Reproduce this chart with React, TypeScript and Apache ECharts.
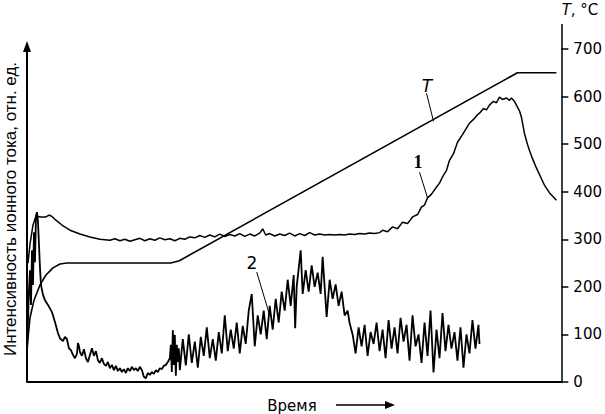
import React, { useEffect, useRef } from "react";
import * as echarts from "echarts";

// Time axis in arbitrary units (0..107), temperature / intensity on a common 0..700 scale
const tempMax = 700;
const tempStep = 100;

const curveT: [number, number][] = [
  [0, 70], [0.6, 135], [1.4, 172], [2.6, 204], [3.8, 225], [5.2, 240], [6.6, 248], [8, 250],
  [28.8, 250], [30.5, 255], [98.2, 650], [106, 650],
];

const curve1: [number, number][] = [
  [0.2, 250], [0.6, 290], [1.2, 330], [1.8, 349], [2.6, 347], [3.8, 347], [4.4, 351], [5.0, 348],
  [5.6, 342], [7, 330], [8.6, 319], [10.6, 311], [12.6, 305], [14.6, 300],
  [16.6, 298], [17.6, 301], [18.6, 297], [19.6, 300], [20.6, 296], [21.6, 299], [22.6, 302],
  [23.6, 297], [24.6, 301], [25.6, 298], [26.6, 303], [27.6, 299], [28.6, 301], [29.6, 297],
  [30.6, 302], [31.6, 300], [32.6, 305], [33.6, 303], [34.6, 308], [35.6, 304], [36.6, 309],
  [37.6, 305], [38.6, 311], [39.6, 306], [40.6, 310], [41.6, 307], [42.6, 312], [43.6, 306],
  [44.6, 311], [45.6, 307], [46.6, 313], [47.2, 322], [47.8, 309], [48.6, 312], [49.6, 307],
  [50.6, 311], [51.6, 308], [52.6, 313], [53.6, 307], [54.6, 312], [55.6, 308], [56.6, 314],
  [57.6, 309], [58.6, 311], [59.6, 309], [60.6, 310], [61.6, 309], [62.6, 310], [63.6, 309],
  [64.6, 311], [65.6, 310], [66.6, 312], [67.6, 311], [68.6, 313], [69.6, 312], [70.6, 314],
  [71.2, 319], [72.2, 316], [73.2, 326], [74.2, 322], [75.2, 336], [76.2, 333], [77.2, 347],
  [78.2, 352], [79, 368], [79.6, 372], [80.2, 387], [81, 395], [82, 410], [82.6, 418],
  [83.2, 431], [84, 445], [84.6, 466], [85.4, 480], [86.2, 504], [87.2, 520], [88.6, 544],
  [89.4, 552], [90.2, 562], [90.6, 565], [91.4, 575], [92, 572], [92.6, 582], [93.4, 590],
  [94, 587], [94.6, 599], [95.2, 594], [96, 597], [96.6, 592], [97, 597], [97.6, 590],
  [98, 582], [98.6, 570], [99, 557], [99.6, 523], [100.2, 500], [100.6, 487], [101.2, 470],
  [102, 450], [102.8, 432], [103.6, 414], [104.6, 398], [106, 382],
];

const curve2: [number, number][] = [
  [0, 57], [0.2, 130], [0.4, 193], [0.6, 235], [0.8, 162], [1.0, 277], [1.2, 204], [1.4, 315],
  [1.6, 252], [1.8, 349], [2.0, 357], [2.2, 336], [2.4, 288], [2.6, 240], [2.8, 204], [3.2, 183],
  [3.6, 172], [4.2, 162], [5.0, 147], [5.6, 126], [6.2, 103], [6.6, 92], [7.2, 86], [7.6, 95],
  [8.0, 90], [8.4, 71], [8.8, 67], [9.2, 57], [9.6, 50], [10, 59], [10.2, 82], [10.4, 76],
  [10.6, 63], [11, 55], [11.4, 69], [11.8, 50], [12.2, 42], [12.6, 57], [13, 71], [13.4, 55],
  [13.8, 65], [14.2, 46], [14.6, 40], [15, 50], [15.4, 38], [15.8, 34], [16.2, 42], [16.6, 29],
  [17, 36], [17.4, 25], [17.8, 34], [18.2, 23], [18.6, 29], [19, 21], [19.4, 27], [19.8, 19],
  [20.2, 29], [20.6, 23], [21, 32], [21.4, 25], [21.8, 29], [22.2, 23], [22.6, 32], [23, 25],
  [23.4, 11], [23.8, 8], [24.2, 19], [24.6, 15], [25, 21], [25.4, 17], [25.8, 25], [26.2, 21],
  [26.6, 29], [27, 27], [27.4, 34], [27.8, 36], [28.2, 42], [28.6, 50], [28.8, 78], [29, 21],
  [29.2, 109], [29.4, 36], [29.6, 99], [29.8, 13], [30, 78], [30.2, 42], [30.4, 71], [30.6, 25],
  [31.2, 90], [31.8, 35], [32.4, 100], [33.0, 40], [33.6, 85], [34.2, 30], [34.8, 95], [35.4, 55],
  [36.0, 115], [36.6, 50], [37.2, 90], [37.8, 45], [38.4, 105], [39.0, 60], [39.6, 140], [40.2, 65],
  [40.8, 110], [41.4, 70], [42.0, 125], [42.6, 60], [43.2, 118], [43.8, 80], [44.4, 150], [45.0, 185],
  [45.6, 75], [46.2, 140], [46.8, 100], [47.4, 150], [48.0, 90], [48.6, 160], [49.2, 110],
  [49.8, 175], [50.4, 125], [51.0, 190], [51.6, 150], [52.2, 215], [52.8, 160], [53.4, 225],
  [53.7, 113], [54.0, 200], [54.8, 277], [55.2, 185], [55.8, 235], [56.4, 190], [57.0, 245],
  [57.6, 200], [58.2, 230], [58.8, 185], [59.2, 263], [60.0, 137], [60.6, 215], [61.2, 175],
  [61.8, 205], [62.4, 160], [63.0, 190], [63.6, 140], [64.2, 150], [64.6, 124], [65.2, 100],
  [65.8, 60], [66.4, 115], [67.0, 75], [67.6, 120], [68.2, 55], [68.8, 105], [69.4, 80],
  [70.0, 125], [70.6, 65], [71.2, 110], [71.8, 50], [72.4, 130], [73.0, 70], [73.6, 115],
  [74.2, 60], [74.8, 135], [75.4, 85], [76.0, 120], [76.6, 45], [77.2, 140], [77.8, 75],
  [78.4, 100], [79.0, 40], [79.6, 125], [80.2, 55], [80.8, 150], [81.4, 20], [82.0, 110],
  [82.6, 50], [83.2, 145], [83.8, 65], [84.4, 120], [85.0, 70], [85.6, 105], [86.2, 45],
  [86.8, 115], [87.4, 30], [88.0, 100], [88.6, 60], [89.2, 130], [89.8, 70], [90.4, 120], [90.6, 80],
];

// leader lines: [start, end] in data coordinates
const leaderT: [number, number][] = [[80, 607], [81.4, 548]];
const leader1: [number, number][] = [[78.6, 441], [80.2, 387]];
const leader2: [number, number][] = [[46, 231], [48.6, 140]];

const leader = (pts: [number, number][]) => ({
  silent: true,
  symbol: ["none", "none"],
  lineStyle: { color: "#000", width: 1, type: "solid" },
  label: { show: false },
  emphasis: { disabled: true },
  data: [[{ coord: pts[0] }, { coord: pts[1] }]],
});

export default function App() {
  const ref = useRef<HTMLDivElement>(null);
  useEffect(() => {
    if (!ref.current) return;
    const chart = echarts.init(ref.current, null, { renderer: "svg" });
    const font = "DejaVu Sans";
    chart.setOption({
      animation: false,
      backgroundColor: "#fff",
      grid: { left: 27, right: 43, top: 49, bottom: 32 },
      xAxis: {
        type: "value", min: 0, max: 107,
        axisLine: { show: true, onZero: false, lineStyle: { color: "#000", width: 2 } },
        axisTick: { show: false }, axisLabel: { show: false }, splitLine: { show: false },
      },
      yAxis: {
        type: "value", position: "right", min: 0, max: tempMax, interval: tempStep,
        axisLine: { show: true, onZero: false, lineStyle: { color: "#000", width: 1.5 } },
        axisTick: { show: true, inside: false, length: 7, lineStyle: { color: "#000", width: 1.5 } },
        axisLabel: { show: true, color: "#000", fontFamily: font, fontSize: 15, margin: 12 },
        splitLine: { show: false },
      },
      series: [
        {
          name: "T", type: "line", data: curveT, showSymbol: false,
          lineStyle: { color: "#000", width: 1.6 }, markLine: leader(leaderT),
        },
        {
          name: "1", type: "line", data: curve1, showSymbol: false,
          lineStyle: { color: "#000", width: 1.5 }, markLine: leader(leader1),
        },
        {
          name: "2", type: "line", data: curve2, showSymbol: false,
          lineStyle: { color: "#000", width: 1.8 }, markLine: leader(leader2),
        },
      ],
      graphic: [
        // left intensity axis with arrow, and top extension of the temperature axis
        { type: "line", shape: { x1: 27, y1: 382, x2: 27, y2: 48 }, style: { stroke: "#000", lineWidth: 2 } },
        { type: "polygon", shape: { points: [[27, 41], [23, 52], [31, 52]] }, style: { fill: "#000" } },
        { type: "line", shape: { x1: 562, y1: 49, x2: 562, y2: 24 }, style: { stroke: "#000", lineWidth: 1.5 } },
        {
          type: "text", x: 10, y: 209, rotation: Math.PI / 2,
          style: {
            text: "Интенсивность ионного тока, отн. ед.", font: "17px 'Liberation Sans'", fill: "#000",
            textAlign: "center", textVerticalAlign: "middle",
          },
        },
        {
          type: "text", x: 580, y: 10,
          style: {
            text: "{i|T}, °C", fill: "#000", textAlign: "center", textVerticalAlign: "middle",
            font: "15px 'DejaVu Sans'",
            rich: { i: { fontStyle: "italic", fontFamily: "DejaVu Sans", fontSize: 15 } },
          },
        },
        { type: "text", x: 427, y: 86, style: { text: "T", font: "italic 17px 'DejaVu Sans'", fill: "#000", textAlign: "center", textVerticalAlign: "middle" } },
        { type: "text", x: 418, y: 162, style: { text: "1", font: "bold 18px 'Liberation Serif'", fill: "#000", textAlign: "center", textVerticalAlign: "middle" } },
        { type: "text", x: 252, y: 263, style: { text: "2", font: "17px 'DejaVu Sans'", fill: "#000", textAlign: "center", textVerticalAlign: "middle" } },
        { type: "text", x: 292, y: 406, style: { text: "Время", font: "15px 'DejaVu Sans'", fill: "#000", textAlign: "center", textVerticalAlign: "middle" } },
        { type: "line", shape: { x1: 336, y1: 405, x2: 389, y2: 405 }, style: { stroke: "#000", lineWidth: 1.5 } },
        { type: "polygon", shape: { points: [[395, 405], [385, 401], [385, 409]] }, style: { fill: "#000" } },
      ],
    });
    return () => chart.dispose();
  }, []);
  return <div ref={ref} style={{ width: 605, height: 414, position: "absolute", left: 0, top: 0 }} />;
}
